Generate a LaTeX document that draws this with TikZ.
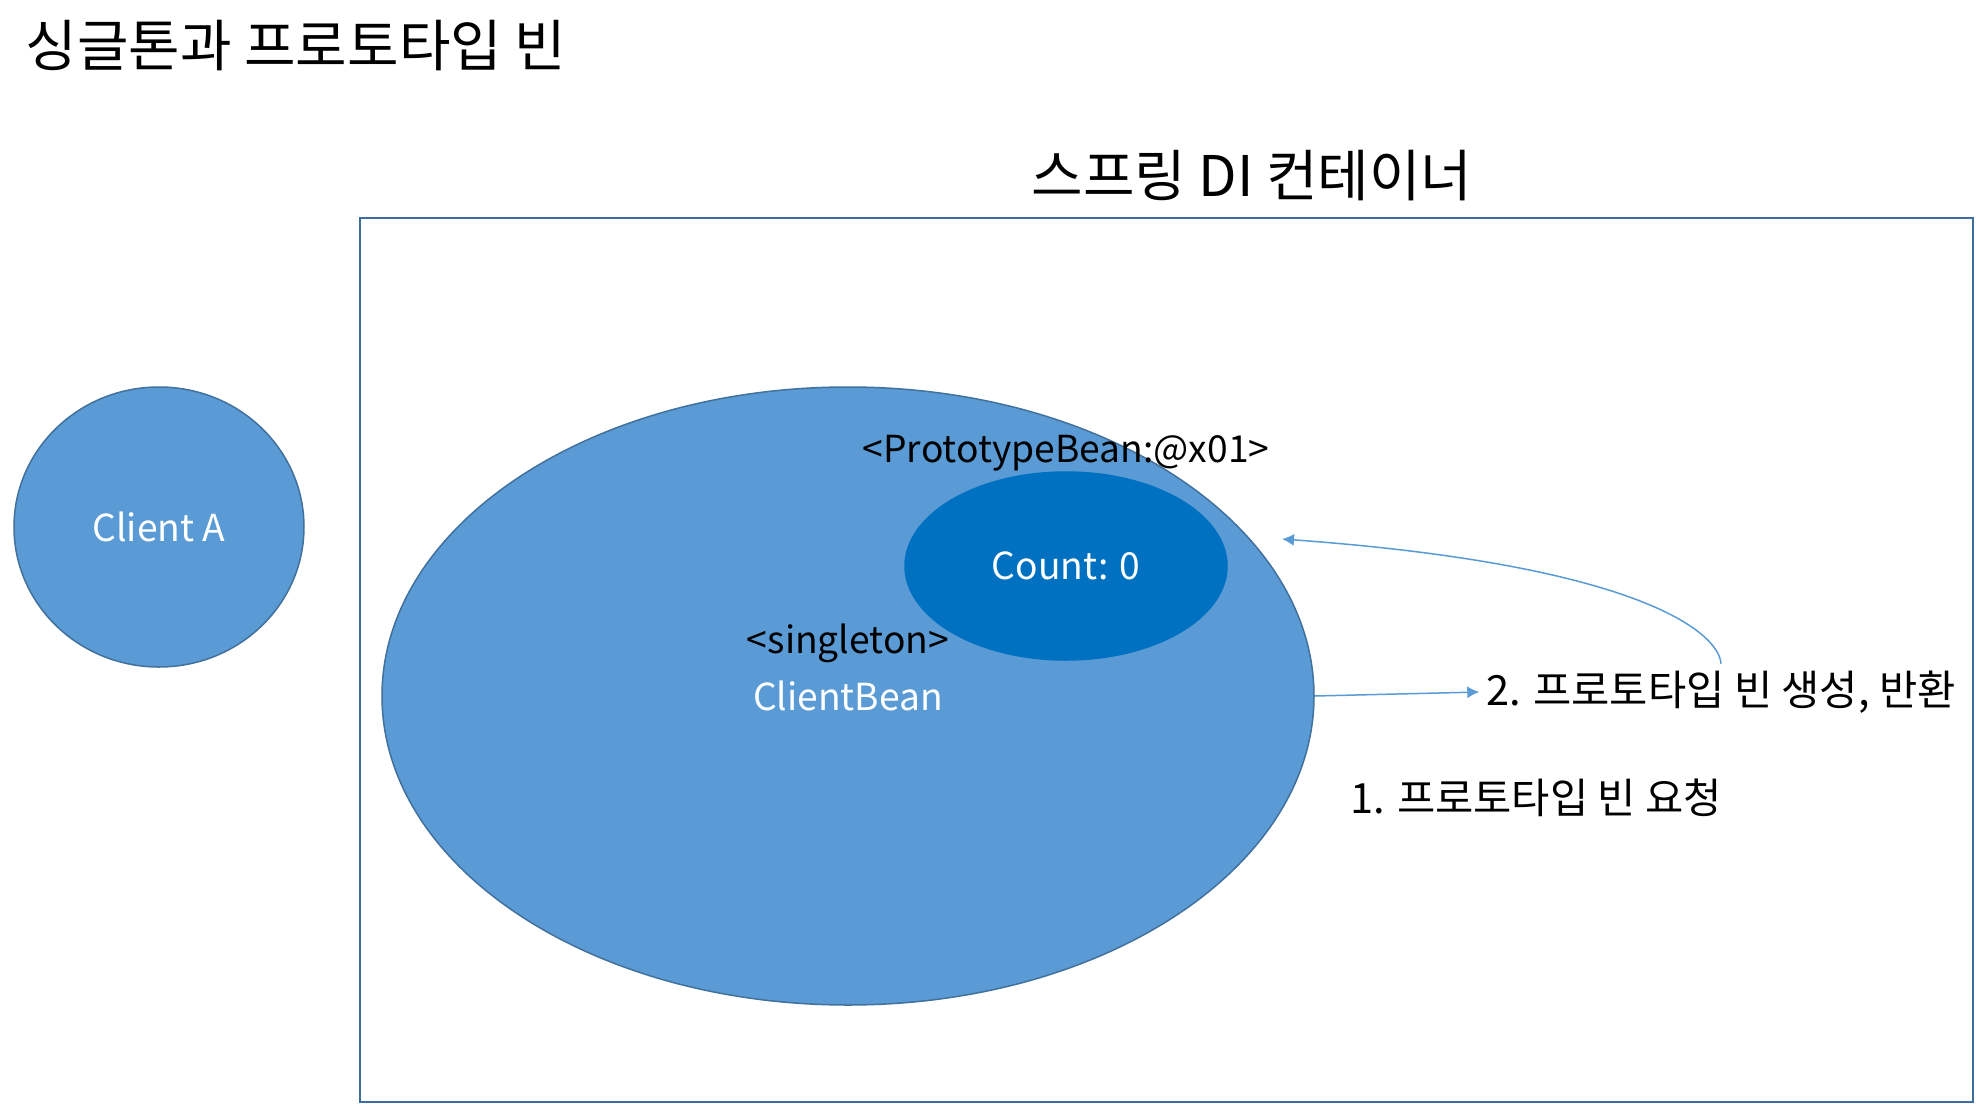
\documentclass[tikz,border=0pt]{standalone}
\usepackage{fontspec}
\setmainfont{Noto Sans CJK KR}
\usetikzlibrary{arrows.meta,shapes.geometric}
\definecolor{BeanFill}{HTML}{5B9BD5}
\definecolor{BeanLine}{HTML}{41719C}
\definecolor{Proto}{HTML}{0070C0}
\definecolor{Frame}{HTML}{3B6E9E}

\begin{document}
\begin{tikzpicture}[x=0.5pt,y=-0.5pt, bean/.style={ellipse,draw=BeanLine,line width=0.75pt,fill=BeanFill,inner sep=0pt,text=white,font=\fontsize{18.6}{23}\selectfont}, tag/.style={text=black,font=\fontsize{18.6}{23}\selectfont}, note/.style={text=black,font=\fontsize{20.8}{25}\selectfont}, head/.style={text=black,font=\fontsize{28}{34}\selectfont}, arrow/.style={-{Latex[length=6pt,width=6pt]},line width=0.75pt,draw=BeanFill}]
\useasboundingbox[fill=white] (0,0) rectangle (1978,1104);
\node[head] (title) at (296,46) {싱글톤과 프로토타입 빈};
\node[head] (dihead) at (1252,176) {스프링 DI 컨테이너};
\draw[Frame,line width=1pt] (360,218) rectangle (1973,1102);
\node[bean,minimum width=145pt,minimum height=140pt] (clienta) at (159,527) {Client A};
\node[bean,minimum width=466pt,minimum height=309pt] (bean) at (848,696) {ClientBean};
\node[bean,draw=Proto,fill=Proto,minimum width=161pt,minimum height=94pt] (count) at (1066,566) {Count: 0};
\node[tag] (single) at (848,643) {<singleton>};
\node[tag] (proto) at (1066,453) {<PrototypeBean:@x01>};
\node[note] (lblone) at (1536,798) {1. 프로토타입 빈 요청};
\node[note] (lbltwo) at (1721,692) {2. 프로토타입 빈 생성, 반환};
\coordinate (ret) at (1282,539);
\draw[arrow] (bean.east)--(lbltwo.west);
\draw[arrow] (lbltwo.north) .. controls +(-2,-31) and (1640,565) .. (ret);
\end{tikzpicture}
\end{document}
